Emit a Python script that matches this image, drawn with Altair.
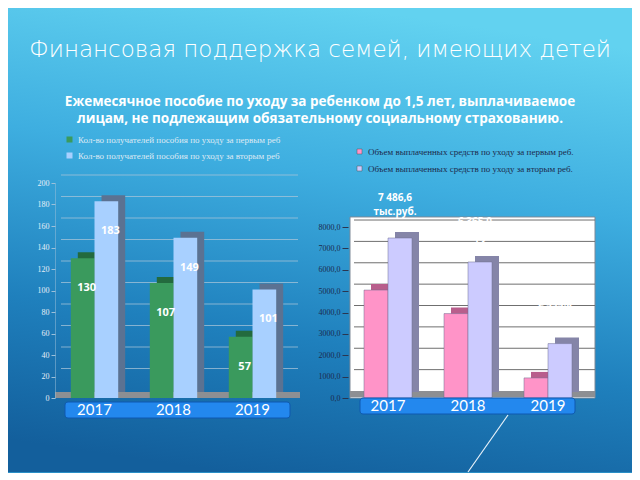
import altair as alt
import pandas as pd

# ---------------- data ----------------
years = ["2017", "2018", "2019"]

left_series = [
    "Кол-во получателей пособия по уходу за первым реб",
    "Кол-во получателей пособия по уходу за вторым реб",
]
left_first = [130, 107, 57]
left_second = [183, 149, 101]

right_series = [
    "Объем выплаченных средств по уходу за первым реб.",
    "Объем выплаченных средств по уходу за вторым реб.",
]
right_first = [5050.0, 3950.0, 940.0]
right_second = [7486.6, 6365.0, 2545.0]

left_ticks = [0, 20, 40, 60, 80, 100, 120, 140, 160, 180, 200]
right_ticks = [0, 1000, 2000, 3000, 4000, 5000, 6000, 7000, 8000]

title_text = "Финансовая поддержка семей, имеющих детей"
subtitle_lines = [
    "Ежемесячное пособие по уходу за ребенком до 1,5 лет, выплачиваемое",
    "лицам, не подлежащим обязательному социальному страхованию.",
]
unit = "тыс.руб."


def frame(series, first, second):
    rows = []
    for i, y in enumerate(years):
        for s, vals in enumerate([first, second]):
            rows.append({"year": y, "series": series[s], "s": s, "value": vals[i]})
    return pd.DataFrame(rows)


left_df = frame(left_series, left_first, left_second)
right_df = frame(right_series, right_first, right_second)
right_df["label"] = right_df["value"].map(
    lambda v: f"{v:,.1f}".replace(",", " ").replace(".", ",") + "\n" + unit
)
one = pd.DataFrame({"k": [0]})
year_df = pd.DataFrame({"year": years})
left_grid = pd.DataFrame({"t": left_ticks[1:]})
right_grid = pd.DataFrame({"t": right_ticks[1:]})

# ---------------- layout / style ----------------
W_L, W_R, H = 237, 240, 215
P_IN, P_OUT = 0.4, 0.2
DX, DY = 7, 6
R_TOP = 10060


def bandwidth(w):
    step = w / (3 - P_IN + 2 * P_OUT)
    return step * (1 - P_IN)


bw_L = bandwidth(W_L)
bw_R = bandwidth(W_R)

grad = {
    "gradient": "linear",
    "x1": 0.55, "y1": 0, "x2": 0.35, "y2": 1,
    "stops": [
        {"offset": 0, "color": "#62d2f0"},
        {"offset": 0.35, "color": "#3eaee0"},
        {"offset": 0.7, "color": "#1f80bd"},
        {"offset": 1, "color": "#135f9c"},
    ],
}

label_font = "Liberation Serif"

# ---------------- left panel ----------------
xs_L = alt.Scale(domain=years, paddingInner=P_IN, paddingOuter=P_OUT)
ys_L = alt.Scale(domain=[0, 200], nice=False)
x_L = alt.X("year:N", scale=xs_L, axis=None)
axis_L = alt.Axis(
    values=left_ticks, title=None, labelFont=label_font, labelFontSize=8,
    labelColor="#e4eef7", tickColor="#9cc0da", domainColor="#9cc0da",
    domainOpacity=0.5, tickSize=4, labelPadding=2, grid=False,
    format="d", labelOverlap=False, labelFlush=False, zindex=1,
)
y_L = alt.Y("value:Q", scale=ys_L, axis=axis_L, title=None)

bg = alt.Chart(one).mark_rect(fill=grad).encode(
    x=alt.value(-47), x2=alt.value(577), y=alt.value(-175), y2=alt.value(289)
)
title_mark = alt.Chart(one).mark_text(
    font="DejaVu Sans", fontSize=23, fontWeight=300, color="white", baseline="middle"
).encode(x=alt.value(265), y=alt.value(-133), text=alt.value(title_text))
subtitle_mark = alt.Chart(one).mark_text(
    font="Open Sans", fontSize=13.5, fontWeight="bold", color="white",
    baseline="top", lineHeight=17,
).encode(x=alt.value(265), y=alt.value(-88), text=alt.value(subtitle_lines))

grid_L = alt.Chart(left_grid).mark_rule(
    color="#a8c4d8", strokeWidth=1, opacity=0.75, yOffset=-8
).encode(x=alt.value(6), x2=alt.value(W_L + 6),
         y=alt.Y("t:Q", scale=ys_L, axis=axis_L, title=None))
floor_L = alt.Chart(one).mark_rect(fill="#8d8f93").encode(
    x=alt.value(0), x2=alt.value(W_L + 8), y=alt.value(H - 6), y2=alt.value(H)
)
back_L = alt.Chart(left_df).mark_bar(yOffset=-DY).encode(
    x=x_L,
    xOffset=alt.XOffset("series:N", sort=left_series,
                        scale=alt.Scale(domain=left_series, range=[DX, bw_L + DX])),
    y=y_L,
    color=alt.condition("datum.s == 0", alt.value("#236a3e"), alt.value("#5b7292")),
)
front_L = alt.Chart(left_df).mark_bar().encode(
    x=x_L,
    xOffset=alt.XOffset("series:N", sort=left_series),
    y=y_L,
    color=alt.Color(
        "series:N",
        scale=alt.Scale(domain=left_series, range=["#3a9a5d", "#a8d0ff"]),
        legend=alt.Legend(
            orient="none", legendX=10, legendY=-48, direction="vertical",
            title=None, symbolType="square", symbolSize=36, symbolStrokeWidth=0,
            labelFont=label_font, labelFontSize=9, labelColor="#dfeaf4",
            labelLimit=500, rowPadding=6, padding=0,
        ),
    ),
)
labels_L = alt.Chart(left_df).mark_text(
    color="white", fontWeight="bold", fontSize=11, font="Open Sans",
    baseline="middle", dy=30, dx=4,
).encode(
    x=x_L, xOffset=alt.XOffset("series:N", sort=left_series), y=y_L,
    text=alt.Text("value:Q", format="d"),
)
ybox_L = alt.Chart(one).mark_rect(
    fill="#2388ee", stroke="#0f58b0", strokeWidth=1, cornerRadius=3
).encode(x=alt.value(10), x2=alt.value(235), y=alt.value(219), y2=alt.value(235))
ytext_L = alt.Chart(year_df).mark_text(
    color="white", font="Lato", fontSize=15, baseline="middle"
).encode(x=x_L, y=alt.value(227), text="year:N")

left = alt.layer(
    bg, title_mark, subtitle_mark, grid_L, floor_L, back_L, front_L, labels_L,
    ybox_L, ytext_L,
).resolve_scale(xOffset="independent").properties(width=W_L, height=H)

# ---------------- right panel ----------------
xs_R = alt.Scale(domain=years, paddingInner=P_IN, paddingOuter=P_OUT)
ys_R = alt.Scale(domain=[0, R_TOP], nice=False)
x_R = alt.X("year:N", scale=xs_R, axis=None)
axis_R = alt.Axis(
    values=right_ticks, title=None, labelFont=label_font, labelFontSize=8,
    labelColor="#1c2c4e", tickColor="#2a3550", domain=False, tickSize=6,
    labelPadding=2, grid=False, labelOverlap=False, labelFlush=False, zindex=1,
    labelExpr="replace(format(datum.value, '.1f'), '.', ',')",
)
y_R = alt.Y("value:Q", scale=ys_R, axis=axis_R, title=None)

white = alt.Chart(one).mark_rect(fill="white", stroke="#7f8a98", strokeWidth=1).encode(
    x=alt.value(2), x2=alt.value(247),
    y=alt.YDatum(0, type="quantitative", scale=ys_R, axis=axis_R, title=None),
    y2=alt.Y2Datum(8470),
)
grid_R = alt.Chart(right_grid).mark_rule(color="#6f6f6f", strokeWidth=1, yOffset=-7).encode(
    x=alt.value(6), x2=alt.value(247),
    y=alt.Y("t:Q", scale=ys_R, axis=axis_R, title=None),
)
floor_R = alt.Chart(one).mark_rect(fill="#8d8f93").encode(
    x=alt.value(2), x2=alt.value(W_R + 7), y=alt.value(H - 7), y2=alt.value(H - 1)
)
back_R = alt.Chart(right_df).mark_bar(yOffset=-DY).encode(
    x=x_R,
    xOffset=alt.XOffset("series:N", sort=right_series,
                        scale=alt.Scale(domain=right_series, range=[DX, bw_R + DX])),
    y=y_R,
    color=alt.condition("datum.s == 0", alt.value("#b85e8c"), alt.value("#8585a8")),
)
front_R = alt.Chart(right_df).mark_bar(stroke="#6f6f90", strokeWidth=0.5).encode(
    x=x_R,
    xOffset=alt.XOffset("series:N", sort=right_series),
    y=y_R,
    color=alt.Color(
        "series:N",
        scale=alt.Scale(domain=right_series, range=["#ff94c8", "#cccbff"]),
        legend=alt.Legend(
            orient="none", legendX=7, legendY=-36, direction="vertical",
            title=None, symbolType="square", symbolSize=25, symbolStrokeWidth=0.5,
            symbolStrokeColor="#555", labelFont=label_font, labelFontSize=9,
            labelColor="#1c2a4c", labelLimit=500, rowPadding=7, padding=0,
        ),
    ),
)
labels_R = alt.Chart(right_df).transform_filter("datum.s == 1").mark_text(
    color="white", fontWeight="bold", fontSize=10, font="Open Sans",
    baseline="middle", lineBreak="\n", lineHeight=14, dy=-40, dx=7,
).encode(
    x=x_R, xOffset=alt.XOffset("series:N", sort=right_series), y=y_R,
    text="label:N",
)
ybox_R = alt.Chart(one).mark_rect(
    fill="#2388ee", stroke="#0f58b0", strokeWidth=1, cornerRadius=3
).encode(x=alt.value(12), x2=alt.value(227), y=alt.value(215), y2=alt.value(231))
ytext_R = alt.Chart(year_df).mark_text(
    color="white", font="Lato", fontSize=15, baseline="middle"
).encode(x=x_R, y=alt.value(223), text="year:N")
leader = alt.Chart(one).mark_rule(color="#e8f2fa", strokeWidth=1.2).encode(
    x=alt.value(160), y=alt.value(232), x2=alt.value(120), y2=alt.value(289)
)

right = alt.layer(
    white, grid_R, floor_R, back_R, front_R, labels_R, ybox_R, ytext_R, leader,
).resolve_scale(xOffset="independent").properties(width=W_R, height=H)

chart = (
    alt.hconcat(left, right, spacing=56, bounds="flush")
    .resolve_scale(color="independent")
    .properties(padding=0)
    .configure(background="#2a8fc6")
    .configure_view(stroke=None)
)

chart.save("out.html", embed_options={"renderer": "svg", "actions": False})
